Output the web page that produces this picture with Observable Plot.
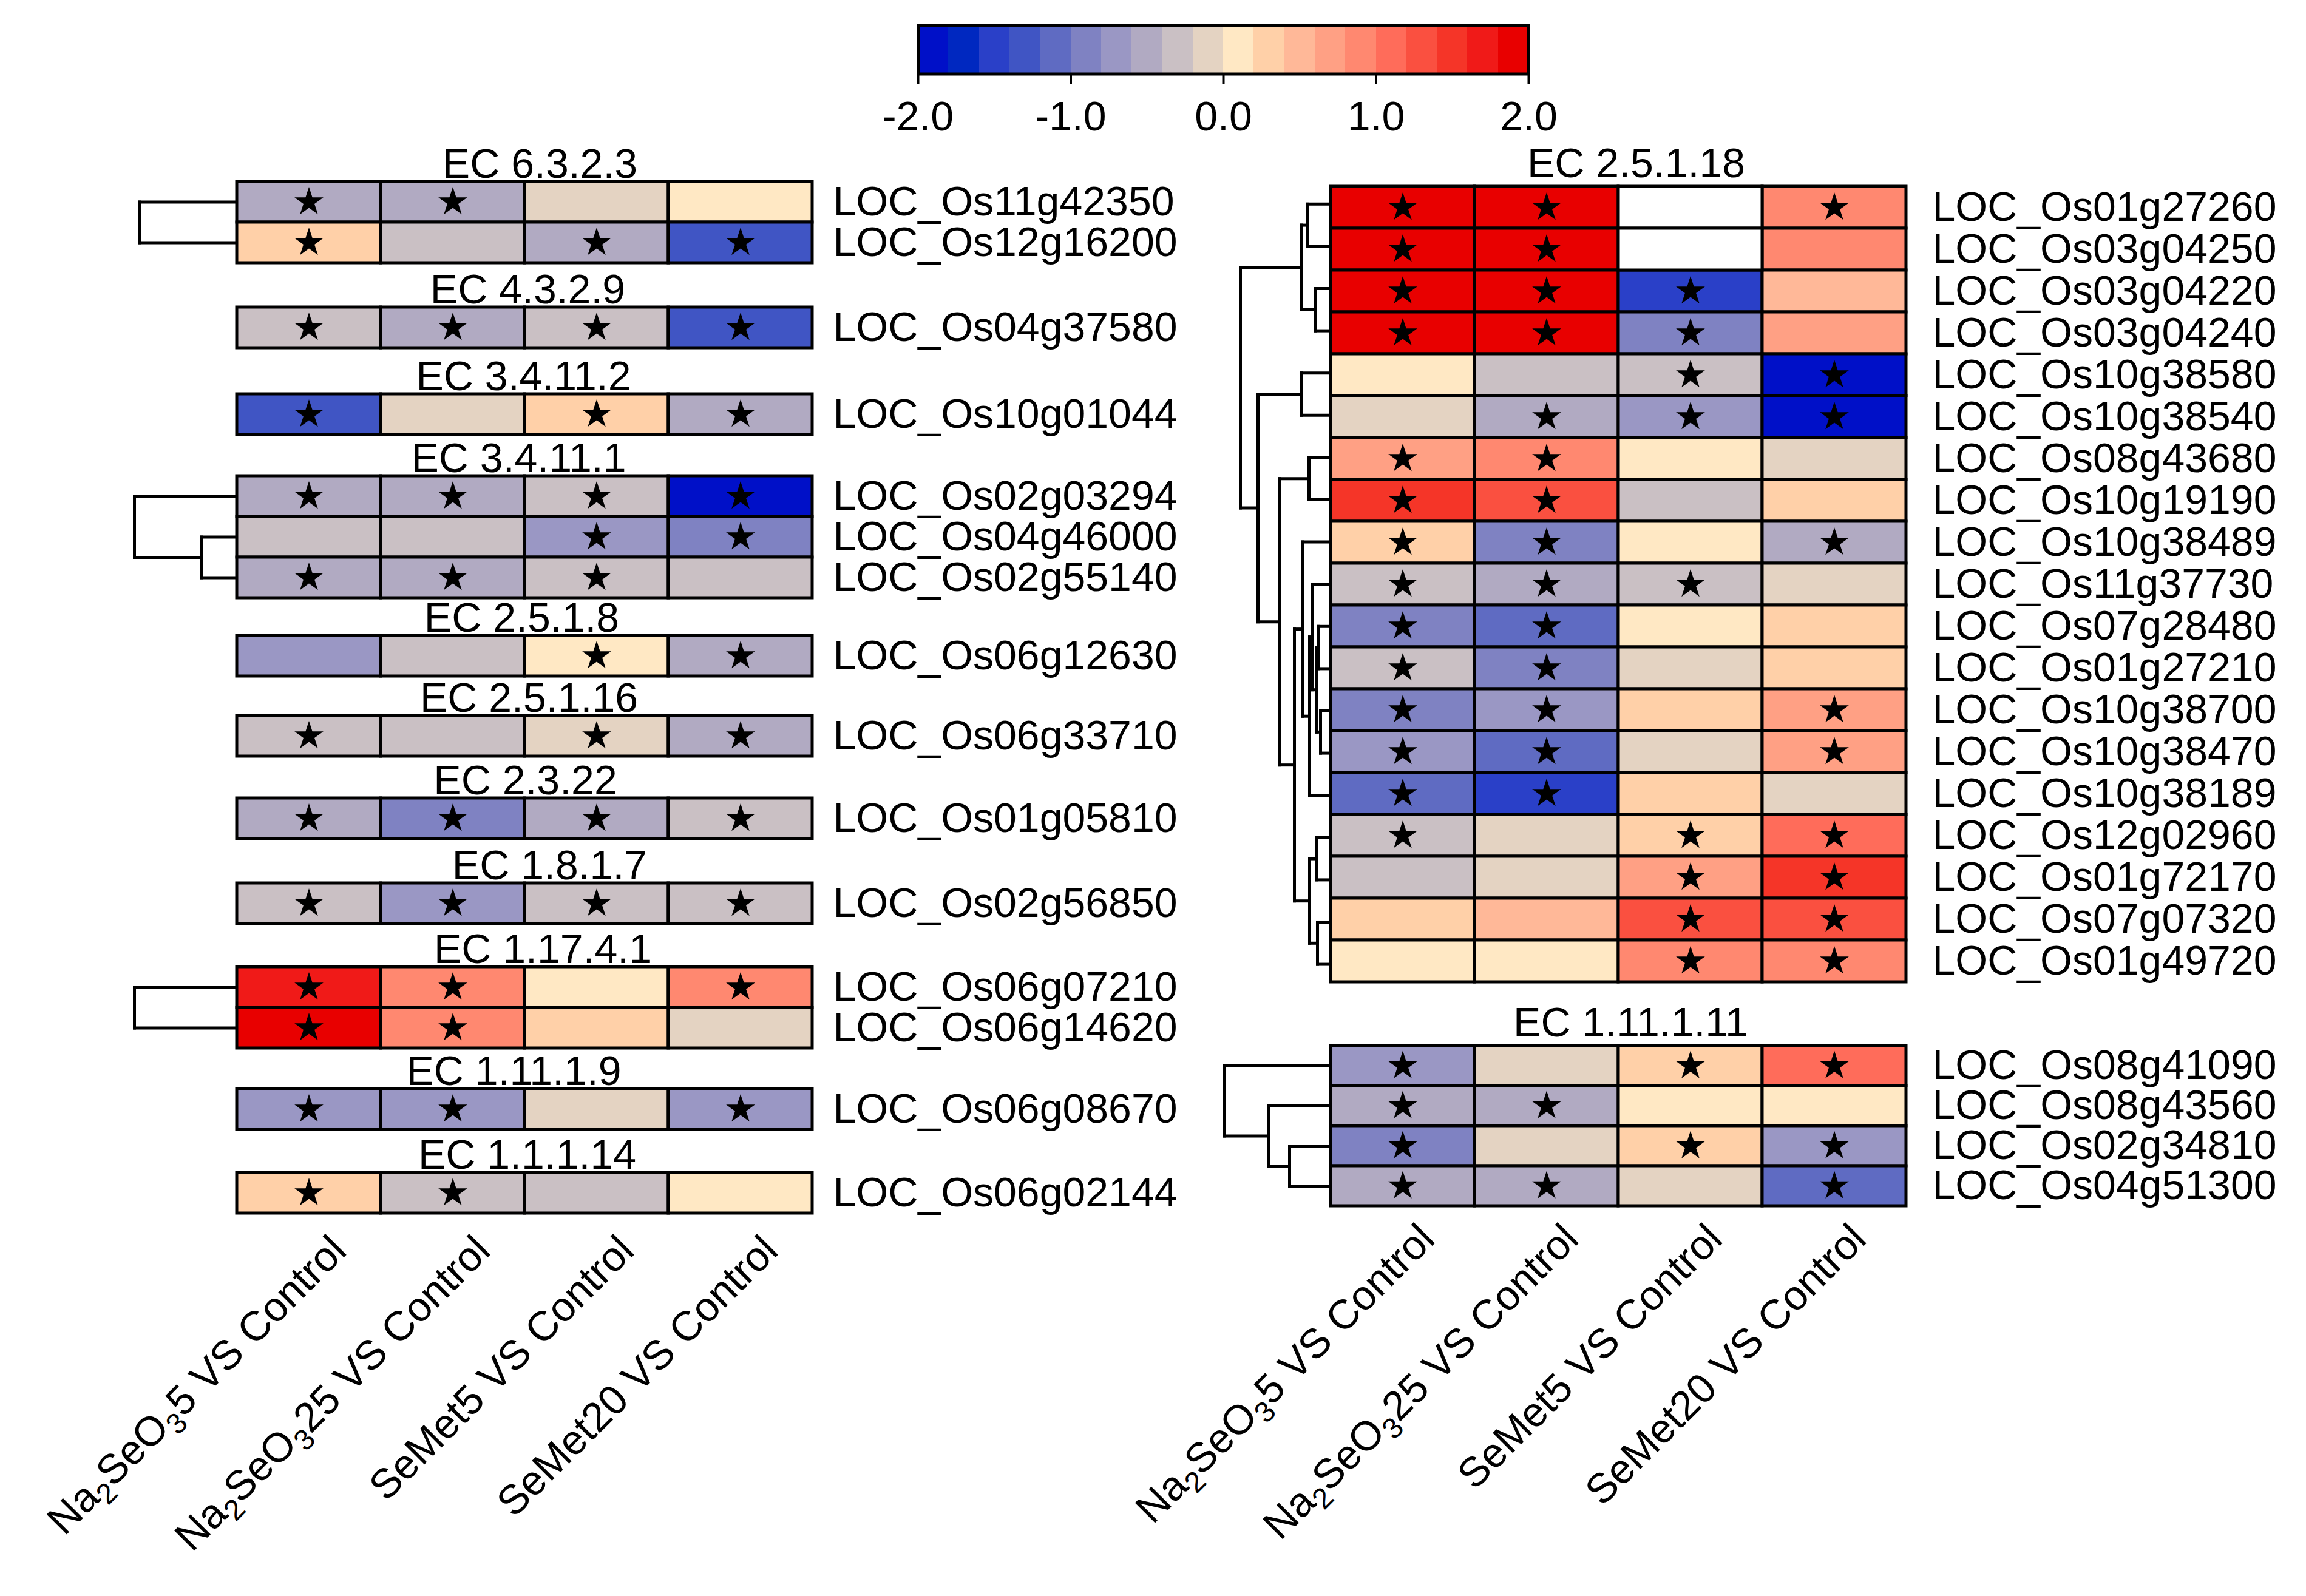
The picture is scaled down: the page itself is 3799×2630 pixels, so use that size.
<!DOCTYPE html>
<html>
<head>
<meta charset="utf-8">
<script src="https://cdn.jsdelivr.net/npm/d3@7"></script>
<script src="https://cdn.jsdelivr.net/npm/@observablehq/plot@0.6"></script>
<style>
html, body { margin: 0; padding: 0; background: #fff; }
#fig { position: relative; width: 3799px; height: 2630px; background: #fff; overflow: hidden; }
#fig svg { position: absolute; overflow: visible; max-width: none; }
</style>
</head>
<body>
<div id="fig"></div>
<script>
// ---------------- DATA ----------------
const conditions = ["Na2SeO35 VS Control", "Na2SeO325 VS Control", "SeMet5 VS Control", "SeMet20 VS Control"];

const colorBins = ["#0010C8", "#0028C0", "#2A40C8", "#4055C4", "#5F6BC2", "#7F82C2", "#9A97C4", "#B1AAC2", "#CAC0C4", "#E4D3C2",
                   "#FFE8C4", "#FFD0A8", "#FFB898", "#FFA084", "#FF8870", "#FF6C5A", "#FA5040", "#F53528", "#F01A18", "#E80000"];
const colorTicks = [-2, -1, 0, 1, 2];

const leftECs = ["EC 6.3.2.3", "EC 4.3.2.9", "EC 3.4.11.2", "EC 3.4.11.1", "EC 2.5.1.8", "EC 2.5.1.16", "EC 2.3.22", "EC 1.8.1.7", "EC 1.17.4.1", "EC 1.11.1.9", "EC 1.1.1.14"];
const leftGenes = [
  ["LOC_Os11g42350", "LOC_Os12g16200"],
  ["LOC_Os04g37580"],
  ["LOC_Os10g01044"],
  ["LOC_Os02g03294", "LOC_Os04g46000", "LOC_Os02g55140"],
  ["LOC_Os06g12630"],
  ["LOC_Os06g33710"],
  ["LOC_Os01g05810"],
  ["LOC_Os02g56850"],
  ["LOC_Os06g07210", "LOC_Os06g14620"],
  ["LOC_Os06g08670"],
  ["LOC_Os06g02144"]
];
const leftValues = [
  [[-0.5, -0.5, -0.1, 0.1], [0.3, -0.3, -0.5, -1.3]],
  [[-0.3, -0.5, -0.3, -1.3]],
  [[-1.3, -0.1, 0.3, -0.5]],
  [[-0.5, -0.5, -0.3, -1.9], [-0.3, -0.3, -0.7, -0.9], [-0.5, -0.5, -0.3, -0.3]],
  [[-0.7, -0.3, 0.1, -0.5]],
  [[-0.3, -0.3, -0.1, -0.5]],
  [[-0.5, -0.9, -0.5, -0.3]],
  [[-0.3, -0.7, -0.3, -0.3]],
  [[1.7, 0.9, 0.1, 0.9], [1.9, 0.9, 0.3, -0.1]],
  [[-0.7, -0.7, -0.1, -0.7]],
  [[0.3, -0.3, -0.3, 0.1]]
];
const leftStars = [
  [[1, 1, 0, 0], [1, 0, 1, 1]],
  [[1, 1, 1, 1]],
  [[1, 0, 1, 1]],
  [[1, 1, 1, 1], [0, 0, 1, 1], [1, 1, 1, 0]],
  [[0, 0, 1, 1]],
  [[1, 0, 1, 1]],
  [[1, 1, 1, 1]],
  [[1, 1, 1, 1]],
  [[1, 1, 0, 1], [1, 1, 0, 0]],
  [[1, 1, 0, 1]],
  [[1, 1, 0, 0]]
];
// dendrograms: [mergeHeight, left, right], leaves = row index
const leftTrees = [[159, 0, 1], null, null, [168, 0, [57, 1, 2]], null, null, null, null, [168, 0, 1], null, null];

const rightECs = ["EC 2.5.1.18", "EC 1.11.1.11"];
const rightGenes = [
  ["LOC_Os01g27260", "LOC_Os03g04250", "LOC_Os03g04220", "LOC_Os03g04240", "LOC_Os10g38580", "LOC_Os10g38540",
   "LOC_Os08g43680", "LOC_Os10g19190", "LOC_Os10g38489", "LOC_Os11g37730", "LOC_Os07g28480", "LOC_Os01g27210",
   "LOC_Os10g38700", "LOC_Os10g38470", "LOC_Os10g38189", "LOC_Os12g02960", "LOC_Os01g72170", "LOC_Os07g07320", "LOC_Os01g49720"],
  ["LOC_Os08g41090", "LOC_Os08g43560", "LOC_Os02g34810", "LOC_Os04g51300"]
];
const rightValues = [
  [[1.9, 1.9, null, 0.9], [1.9, 1.9, null, 0.9], [1.9, 1.9, -1.5, 0.5], [1.9, 1.9, -0.9, 0.7],
   [0.1, -0.3, -0.3, -1.9], [-0.1, -0.5, -0.7, -1.9], [0.7, 0.9, 0.1, -0.1], [1.5, 1.3, -0.3, 0.3],
   [0.3, -0.9, 0.1, -0.5], [-0.3, -0.5, -0.3, -0.1], [-0.9, -1.1, 0.1, 0.3], [-0.3, -0.9, -0.1, 0.3],
   [-0.9, -0.7, 0.3, 0.7], [-0.7, -1.1, -0.1, 0.7], [-1.1, -1.5, 0.3, -0.1], [-0.3, -0.1, 0.3, 1.1],
   [-0.3, -0.1, 0.7, 1.5], [0.3, 0.5, 1.3, 1.3], [0.1, 0.1, 0.9, 0.9]],
  [[-0.7, -0.1, 0.3, 1.1], [-0.5, -0.5, 0.1, 0.1], [-0.9, -0.1, 0.3, -0.7], [-0.5, -0.5, -0.1, -1.1]]
];
const rightStars = [
  [[1, 1, 0, 1], [1, 1, 0, 0], [1, 1, 1, 0], [1, 1, 1, 0], [0, 0, 1, 1], [0, 1, 1, 1], [1, 1, 0, 0],
   [1, 1, 0, 0], [1, 1, 0, 1], [1, 1, 1, 0], [1, 1, 0, 0], [1, 1, 0, 0], [1, 1, 0, 1], [1, 1, 0, 1],
   [1, 1, 0, 0], [1, 0, 1, 1], [0, 0, 1, 1], [0, 0, 1, 1], [0, 0, 1, 1]],
  [[1, 0, 1, 1], [1, 1, 0, 0], [1, 0, 1, 1], [1, 1, 0, 1]]
];
const rightTrees = [
  [149, [48, [39, 0, 1], [25, 2, 3]],
        [120, [49, 4, 5],
              [84, [36, 6, 7],
                   [60, [46, 8, [35, [30, 9, [24, [20, 10, 11], [17, 12, 13]]], 14]],
                        [35, [24, 15, 16], [22, 17, 18]]]]]],
  [176, 0, [102, 1, [68, 2, 3]]]
];

// ---------------- LAYOUT ----------------
const FONT = "Liberation Sans, Arial, Helvetica, sans-serif";
const FS = 68;
const leftLayout = {bandLeft: 389, bandRight: 1339, rowH: 67, labelPad: 33,
  tops: [299, 506, 649, 784, 1047, 1179, 1315, 1455, 1593, 1794, 1932],
  titleDx: [25, 5, -2, -10, -5, 7, 1, 41, 30, -18, 4], titleDy: -7, xlab: {dx: 65, dy: 65}};
const rightLayout = {bandLeft: 2192, bandRight: 3140, labelPad: 43,
  tops: [300.5, 1723], rowH: [69.6, 66], titleDx: [29, 20], titleDy: [-9, -16], xlab: {dx: 56, dy: 58}};

const fig = document.getElementById("fig");
const thresholds = d3.range(1, colorBins.length).map(i => -2 + i * 4 / colorBins.length);
const colorScale = {type: "threshold", domain: thresholds, range: colorBins};
const baseStyle = {fontFamily: FONT, fontSize: FS + "px", background: "transparent", overflow: "visible", color: "black"};

function place(svg, left, top) {
  svg.style.position = "absolute";
  svg.style.left = left + "px";
  svg.style.top = top + "px";
  fig.appendChild(svg);
}

function subscriptLabels(svg) {
  d3.select(svg).selectAll("text").each(function () {
    const t = this.textContent;
    if (t.startsWith("Na2SeO3")) {
      const rest = t.slice(7);
      const s = d3.select(this);
      s.text(null);
      s.append("tspan").text("Na");
      s.append("tspan").attr("font-size", "48px").attr("dy", 15).text("2");
      s.append("tspan").attr("dy", -15).text("SeO");
      s.append("tspan").attr("font-size", "48px").attr("dy", 15).text("3");
      s.append("tspan").attr("dy", -15).text(rest);
    }
  });
}

function heatBlock({genes, values, stars, title, bandLeft, bandRight, top, rowH, labelPad, titleDx, titleDy, xlab}) {
  const n = genes.length;
  const H = n * rowH, W = bandRight - bandLeft;
  const mL = 10, mR = 700, mT = 100, mB = xlab ? 700 : 10;
  const cells = [];
  genes.forEach((g, i) => conditions.forEach((c, j) =>
    cells.push({gene: g, cond: c, value: values[i][j], star: stars[i][j]})));
  const marks = [
    Plot.cell(cells.filter(d => d.value != null), {x: "cond", y: "gene", fill: "value", stroke: "black", strokeWidth: 5, inset: 0}),
    Plot.cell(cells.filter(d => d.value == null), {x: "cond", y: "gene", fill: "white", stroke: "black", strokeWidth: 5, inset: 0}),
    Plot.dot(cells.filter(d => d.star), {x: "cond", y: "gene", symbol: "star", r: 15, fill: "black", stroke: "none"}),
    Plot.axisY({anchor: "right", tickSize: 0, tickPadding: labelPad, fontSize: FS, label: null}),
    Plot.text([title], {frameAnchor: "top", dx: titleDx, dy: titleDy, lineAnchor: "bottom", fontSize: FS})
  ];
  if (xlab) {
    marks.push(Plot.text(conditions, {x: d => d, frameAnchor: "bottom", rotate: -45, textAnchor: "end",
      lineAnchor: "bottom", dx: xlab.dx, dy: xlab.dy, fontSize: FS}));
  }
  const svg = Plot.plot({
    width: mL + W + mR, height: mT + H + mB,
    marginLeft: mL, marginRight: mR, marginTop: mT, marginBottom: mB,
    x: {domain: conditions, padding: 0, axis: null},
    y: {domain: genes, padding: 0, axis: null, label: null},
    color: colorScale,
    style: baseStyle,
    marks
  });
  if (xlab) subscriptLabels(svg);
  place(svg, bandLeft - mL, top - mT);
}

function dendro(tree, n, rowH, bandLeft, top, width) {
  const segs = [];
  function walk(node) {
    if (typeof node === "number") return {y: node, h: 0};
    const [h, a, b] = node;
    const A = walk(a), B = walk(b);
    segs.push({x1: h, y1: A.y, x2: h, y2: B.y});
    segs.push({x1: h, y1: A.y, x2: A.h, y2: A.y});
    segs.push({x1: h, y1: B.y, x2: B.h, y2: B.y});
    return {y: (A.y + B.y) / 2, h};
  }
  walk(tree);
  const H = n * rowH;
  const svg = Plot.plot({
    width, height: H, margin: 0,
    x: {domain: [0, width], range: [width, 0], axis: null},
    y: {domain: [-0.5, n - 0.5], range: [0, H], axis: null},
    style: baseStyle,
    marks: [Plot.link(segs, {x1: "x1", y1: "y1", x2: "x2", y2: "y2", stroke: "black", strokeWidth: 5, strokeLinecap: "square"})]
  });
  place(svg, bandLeft - width, top);
}

// ---------------- COLOR BAR ----------------
(function () {
  const edges = [-2, ...thresholds, 2];
  const bins = colorBins.map((c, i) => ({x1: edges[i], x2: edges[i + 1], value: (edges[i] + edges[i + 1]) / 2}));
  const mL = 100, W = 1006, mR = 100;
  const svg = Plot.plot({
    width: mL + W + mR, height: 240,
    marginLeft: mL, marginRight: mR, marginTop: 41.5, marginBottom: 118.5,
    x: {domain: [-2, 2], label: null, axis: null},
    color: colorScale,
    style: baseStyle,
    marks: [
      Plot.rect(bins, {x1: "x1", x2: "x2", fill: "value", inset: 0, shapeRendering: "crispEdges"}),
      Plot.frame({stroke: "black", strokeWidth: 5}),
      Plot.axisX({ticks: colorTicks, tickSize: 17, tickPadding: 28, strokeWidth: 4, tickFormat: d => d.toFixed(1), fontSize: FS, label: null})
    ]
  });
  place(svg, 1512 - mL, 0);
})();

// ---------------- LEFT PANEL ----------------
leftECs.forEach((ec, k) => {
  const L = leftLayout;
  heatBlock({genes: leftGenes[k], values: leftValues[k], stars: leftStars[k], title: ec,
    bandLeft: L.bandLeft, bandRight: L.bandRight, top: L.tops[k], rowH: L.rowH, labelPad: L.labelPad,
    titleDx: L.titleDx[k], titleDy: L.titleDy, xlab: k === leftECs.length - 1 ? L.xlab : null});
  if (leftTrees[k]) dendro(leftTrees[k], leftGenes[k].length, L.rowH, L.bandLeft, L.tops[k], 190);
});

// ---------------- RIGHT PANEL ----------------
rightECs.forEach((ec, k) => {
  const R = rightLayout;
  heatBlock({genes: rightGenes[k], values: rightValues[k], stars: rightStars[k], title: ec,
    bandLeft: R.bandLeft, bandRight: R.bandRight, top: R.tops[k], rowH: R.rowH[k], labelPad: R.labelPad,
    titleDx: R.titleDx[k], titleDy: R.titleDy[k], xlab: k === rightECs.length - 1 ? R.xlab : null});
  dendro(rightTrees[k], rightGenes[k].length, R.rowH[k], R.bandLeft, R.tops[k], 190);
});
</script>
</body>
</html>
